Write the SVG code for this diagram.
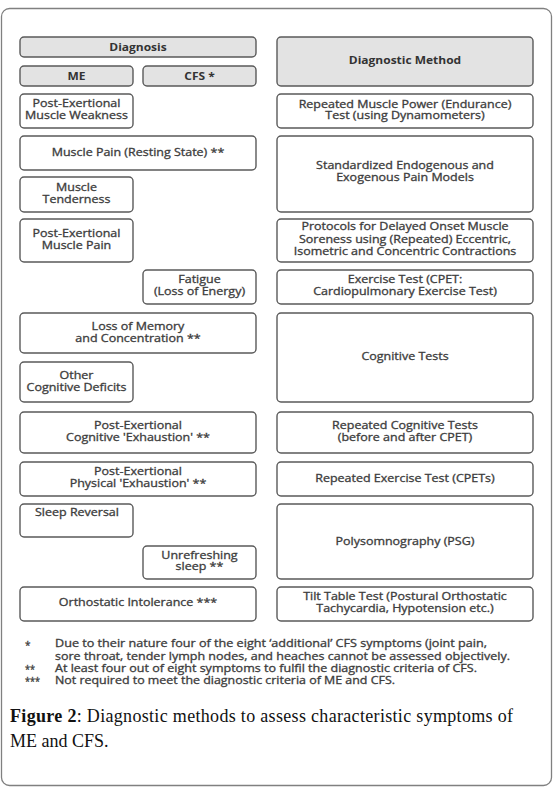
<svg xmlns="http://www.w3.org/2000/svg" width="554" height="796" viewBox="0 0 554 796">
<style>
.frame{fill:#fff;stroke:#808080;stroke-width:1.3}
.box{fill:#fff;stroke:#5a5a5a;stroke-width:1.4}
.hd{fill:#e3e3e3;stroke:#5a5a5a;stroke-width:1.4}
.t{font-family:"Open Sans","Noto Sans","DejaVu Sans",sans-serif;font-size:10px;font-weight:normal;fill:#3d3d3d;stroke:#3d3d3d;stroke-width:0.3;text-anchor:middle}
.b{font-weight:bold;fill:#333;stroke:none}
.fn{font-family:"Open Sans","Noto Sans","DejaVu Sans",sans-serif;font-size:10px;fill:#3d3d3d;stroke:#3d3d3d;stroke-width:0.3}
.cap{font-family:"Liberation Serif","Times New Roman",serif;font-size:18px;fill:#111}
</style>
<rect class="frame" x="1.5" y="8.5" width="550" height="777" rx="8"/>
<g id="connectors"></g>
<g id="n-diagnosis"><rect class="hd" x="20" y="37" width="236" height="20" rx="4"/><text class="t b" transform="scale(1.2 1)" x="115" y="51">Diagnosis</text></g>
<g id="n-me"><rect class="hd" x="20" y="66" width="113" height="20" rx="4"/><text class="t b" transform="scale(1.2 1)" x="63.75" y="80">ME</text></g>
<g id="n-cfs"><rect class="hd" x="143" y="66" width="113" height="20" rx="4"/><text class="t b" transform="scale(1.2 1)" x="166.25" y="80">CFS *</text></g>
<g id="n-pemw"><rect class="box" x="20" y="94" width="113" height="34" rx="4"/><text class="t" transform="scale(1.25 1)" x="61.2" y="107.5">Post-Exertional</text><text class="t" transform="scale(1.25 1)" x="61.2" y="119.5">Muscle Weakness</text></g>
<g id="n-mp"><rect class="box" x="20" y="136" width="236" height="34" rx="4"/><text class="t" transform="scale(1.25 1)" x="110.4" y="156.5">Muscle Pain (Resting State) **</text></g>
<g id="n-mt"><rect class="box" x="20" y="177" width="113" height="35" rx="4"/><text class="t" transform="scale(1.25 1)" x="61.2" y="191.5">Muscle</text><text class="t" transform="scale(1.25 1)" x="61.2" y="203.5">Tenderness</text></g>
<g id="n-pemp"><rect class="box" x="20" y="219" width="113" height="43" rx="4"/><text class="t" transform="scale(1.25 1)" x="61.2" y="237.5">Post-Exertional</text><text class="t" transform="scale(1.25 1)" x="61.2" y="249.5">Muscle Pain</text></g>
<g id="n-fat"><rect class="box" x="143" y="270" width="113" height="34" rx="4"/><text class="t" transform="scale(1.25 1)" x="159.6" y="283.5">Fatigue</text><text class="t" transform="scale(1.25 1)" x="159.6" y="295.5">(Loss of Energy)</text></g>
<g id="n-lom"><rect class="box" x="20" y="313" width="236" height="40" rx="4"/><text class="t" transform="scale(1.25 1)" x="110.4" y="330">Loss of Memory</text><text class="t" transform="scale(1.25 1)" x="110.4" y="342">and Concentration **</text></g>
<g id="n-ocd"><rect class="box" x="20" y="362" width="113" height="40" rx="4"/><text class="t" transform="scale(1.25 1)" x="61.2" y="379">Other</text><text class="t" transform="scale(1.25 1)" x="61.2" y="391">Cognitive Deficits</text></g>
<g id="n-pece"><rect class="box" x="20" y="412" width="236" height="41" rx="4"/><text class="t" transform="scale(1.25 1)" x="110.4" y="429.5">Post-Exertional</text><text class="t" transform="scale(1.25 1)" x="110.4" y="441">Cognitive 'Exhaustion' **</text></g>
<g id="n-pepe"><rect class="box" x="20" y="462" width="236" height="34" rx="4"/><text class="t" transform="scale(1.25 1)" x="110.4" y="475.5">Post-Exertional</text><text class="t" transform="scale(1.25 1)" x="110.4" y="487">Physical 'Exhaustion' **</text></g>
<g id="n-sr"><rect class="box" x="20" y="504" width="113" height="33" rx="4"/><text class="t" transform="scale(1.25 1)" x="61.6" y="516">Sleep Reversal</text></g>
<g id="n-us"><rect class="box" x="143" y="546" width="113" height="33" rx="4"/><text class="t" transform="scale(1.25 1)" x="159.6" y="559.5">Unrefreshing</text><text class="t" transform="scale(1.25 1)" x="159.6" y="570.5">sleep **</text></g>
<g id="n-oi"><rect class="box" x="20" y="587" width="236" height="34" rx="4"/><text class="t" transform="scale(1.25 1)" x="110.4" y="606.5">Orthostatic Intolerance ***</text></g>
<g id="n-dm"><rect class="hd" x="277" y="37" width="256" height="49" rx="4"/><text class="t b" transform="scale(1.2 1)" x="337.5" y="64.5">Diagnostic Method</text></g>
<g id="n-rmp"><rect class="box" x="277" y="94" width="256" height="34" rx="4"/><text class="t" transform="scale(1.25 1)" x="324" y="108.5">Repeated Muscle Power (Endurance)</text><text class="t" transform="scale(1.25 1)" x="324" y="119.5">Test (using Dynamometers)</text></g>
<g id="n-std"><rect class="box" x="277" y="136" width="256" height="76" rx="4"/><text class="t" transform="scale(1.25 1)" x="324" y="169.5">Standardized Endogenous and</text><text class="t" transform="scale(1.25 1)" x="324" y="181.5">Exogenous Pain Models</text></g>
<g id="n-prot"><rect class="box" x="277" y="219" width="256" height="43" rx="4"/><text class="t" transform="scale(1.25 1)" x="324" y="230.5">Protocols for Delayed Onset Muscle</text><text class="t" transform="scale(1.25 1)" x="324" y="243">Soreness using (Repeated) Eccentric,</text><text class="t" transform="scale(1.25 1)" x="324" y="255.5">Isometric and Concentric Contractions</text></g>
<g id="n-ex"><rect class="box" x="277" y="270" width="256" height="34" rx="4"/><text class="t" transform="scale(1.25 1)" x="324" y="283.5">Exercise Test (CPET:</text><text class="t" transform="scale(1.25 1)" x="324" y="295.5">Cardiopulmonary Exercise Test)</text></g>
<g id="n-cog"><rect class="box" x="277" y="313" width="256" height="89" rx="4"/><text class="t" transform="scale(1.25 1)" x="324" y="360.5">Cognitive Tests</text></g>
<g id="n-rct"><rect class="box" x="277" y="412" width="256" height="41" rx="4"/><text class="t" transform="scale(1.25 1)" x="324" y="429.5">Repeated Cognitive Tests</text><text class="t" transform="scale(1.25 1)" x="324" y="441">(before and after CPET)</text></g>
<g id="n-ret"><rect class="box" x="277" y="462" width="256" height="34" rx="4"/><text class="t" transform="scale(1.25 1)" x="324" y="482.5">Repeated Exercise Test (CPETs)</text></g>
<g id="n-psg"><rect class="box" x="277" y="504" width="256" height="75" rx="4"/><text class="t" transform="scale(1.25 1)" x="324" y="545.5">Polysomnography (PSG)</text></g>
<g id="n-tilt"><rect class="box" x="277" y="587" width="256" height="34" rx="4"/><text class="t" transform="scale(1.25 1)" x="324" y="600.5">Tilt Table Test (Postural Orthostatic</text><text class="t" transform="scale(1.25 1)" x="324" y="612.5">Tachycardia, Hypotension etc.)</text></g>
<g id="footnotes">
<text class="fn" x="25" y="649">*</text><text class="fn" x="55" y="647" textLength="432" lengthAdjust="spacingAndGlyphs">Due to their nature four of the eight ‘additional’ CFS symptoms (joint pain,</text>
<text class="fn" x="55" y="659.5" textLength="455" lengthAdjust="spacingAndGlyphs">sore throat, tender lymph nodes, and heaches cannot be assessed objectively.</text>
<text class="fn" x="25" y="673" textLength="10" lengthAdjust="spacingAndGlyphs">**</text><text class="fn" x="55" y="671.5" textLength="422" lengthAdjust="spacingAndGlyphs">At least four out of eight symptoms to fulfil the diagnostic criteria of CFS.</text>
<text class="fn" x="25" y="685" textLength="15" lengthAdjust="spacingAndGlyphs">***</text><text class="fn" x="55" y="683.5" textLength="340" lengthAdjust="spacingAndGlyphs">Not required to meet the diagnostic criteria of ME and CFS.</text>
</g>
<g id="caption">
<text class="cap" x="10" y="722" textLength="503" lengthAdjust="spacing"><tspan font-weight="bold">Figure 2</tspan>: Diagnostic methods to assess characteristic symptoms of</text>
<text class="cap" x="10" y="747">ME and CFS.</text>
</g>
</svg>
